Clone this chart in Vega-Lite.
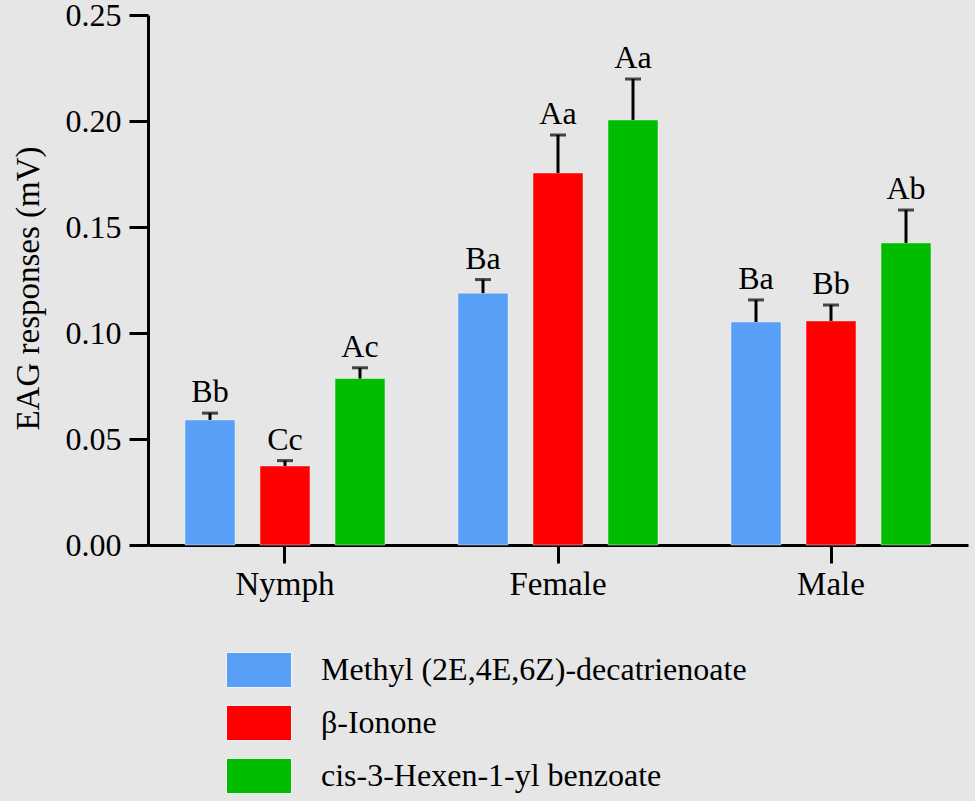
{
  "$schema": "https://vega.github.io/schema/vega-lite/v6.json",
  "autosize": "none",
  "padding": {"left": 148, "top": 15, "right": 7, "bottom": 256},
  "width": 820,
  "height": 530,
  "background": "#e6e6e6",
  "config": {
    "view": {"stroke": null},
    "font": "Liberation Serif",
    "axis": {"grid": false, "domainColor": "black", "tickColor": "black", "labelColor": "black", "titleColor": "black", "labelFont": "Liberation Serif", "titleFont": "Liberation Serif"},
    "text": {"font": "Liberation Serif"}
  },
  "data": {
    "values": [
      {"stage": "Nymph", "compound": "Methyl (2E,4E,6Z)-decatrienoate", "value": 0.059, "upper": 0.0622, "label": "Bb"},
      {"stage": "Nymph", "compound": "β-Ionone", "value": 0.0373, "upper": 0.0398, "label": "Cc"},
      {"stage": "Nymph", "compound": "cis-3-Hexen-1-yl benzoate", "value": 0.0785, "upper": 0.0836, "label": "Ac"},
      {"stage": "Female", "compound": "Methyl (2E,4E,6Z)-decatrienoate", "value": 0.1188, "upper": 0.1252, "label": "Ba"},
      {"stage": "Female", "compound": "β-Ionone", "value": 0.1755, "upper": 0.1934, "label": "Aa"},
      {"stage": "Female", "compound": "cis-3-Hexen-1-yl benzoate", "value": 0.2005, "upper": 0.2198, "label": "Aa"},
      {"stage": "Male", "compound": "Methyl (2E,4E,6Z)-decatrienoate", "value": 0.1052, "upper": 0.1156, "label": "Ba"},
      {"stage": "Male", "compound": "β-Ionone", "value": 0.1057, "upper": 0.1132, "label": "Bb"},
      {"stage": "Male", "compound": "cis-3-Hexen-1-yl benzoate", "value": 0.1425, "upper": 0.158, "label": "Ab"}
    ]
  },
  "encoding": {
    "x": {
      "field": "stage", "type": "nominal", "sort": ["Nymph", "Female", "Male"],
      "scale": {"paddingInner": 0.1758, "paddingOuter": 0.0897},
      "axis": {"title": null, "labelAngle": 0, "labelFontSize": 33, "tickSize": 18, "tickWidth": 3, "domainWidth": 3, "labelPadding": 5}
    },
    "xOffset": {
      "field": "compound", "type": "nominal",
      "sort": ["Methyl (2E,4E,6Z)-decatrienoate", "β-Ionone", "cis-3-Hexen-1-yl benzoate"],
      "scale": {"paddingInner": 0.3333, "paddingOuter": 0.1667}
    }
  },
  "layer": [
    {
      "mark": {"type": "bar", "stroke": "#f4f4f4", "strokeWidth": 1, "strokeOpacity": 0.5},
      "encoding": {
        "y": {
          "field": "value", "type": "quantitative",
          "scale": {"domain": [0, 0.25], "nice": false},
          "axis": {
            "title": "EAG responses (mV)", "titleFontSize": 33, "titleFontWeight": "normal", "titlePadding": 20, "titleY": 273,
            "values": [0, 0.05, 0.1, 0.15, 0.2, 0.25], "format": ".2f",
            "labelFontSize": 32, "labelPadding": 8, "tickSize": 19, "tickWidth": 3, "domainWidth": 3
          }
        },
        "color": {
          "field": "compound", "type": "nominal",
          "sort": ["Methyl (2E,4E,6Z)-decatrienoate", "β-Ionone", "cis-3-Hexen-1-yl benzoate"],
          "scale": {"range": ["#579ff7", "#ff0000", "#00bd00"]},
          "legend": {
            "title": null, "orient": "none", "legendX": 78, "legendY": 622, "direction": "vertical",
            "symbolType": "M-1,-0.54H1V0.54H-1Z", "symbolSize": 4225, "symbolStrokeColor": "#f4f4f4", "symbolStrokeWidth": 1,
            "symbolOpacity": 1,
            "labelFontSize": 32, "labelFont": "Liberation Serif", "labelColor": "black", "labelLimit": 700, "labelOffset": 29,
            "rowPadding": -5, "padding": 0
          }
        }
      }
    },
    {
      "mark": {"type": "rule", "color": "black", "strokeWidth": 3},
      "encoding": {
        "y": {"field": "value", "type": "quantitative"},
        "y2": {"field": "upper"}
      }
    },
    {
      "mark": {"type": "tick", "color": "black", "thickness": 3, "size": 16},
      "encoding": {
        "y": {"field": "upper", "type": "quantitative"}
      }
    },
    {
      "mark": {"type": "text", "font": "Liberation Serif", "fontSize": 32, "color": "black", "baseline": "alphabetic", "dy": -11},
      "encoding": {
        "y": {"field": "upper", "type": "quantitative"},
        "text": {"field": "label"}
      }
    }
  ]
}
